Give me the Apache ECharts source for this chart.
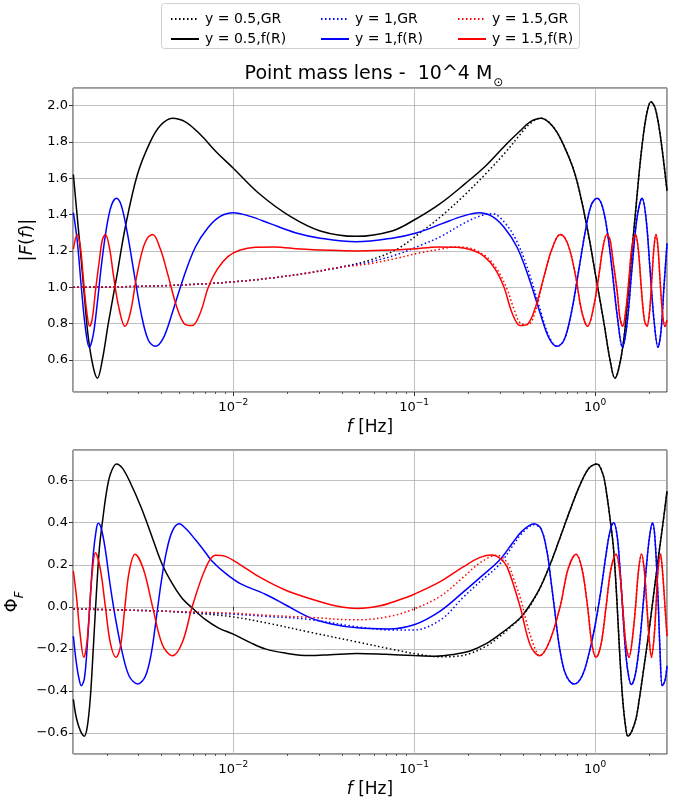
<!DOCTYPE html>
<html>
<head>
<meta charset="utf-8">
<script src="https://cdn.jsdelivr.net/npm/echarts@6/dist/echarts.min.js"></script>
<style>html,body{margin:0;padding:0;background:#fff}#c{width:692px;height:810px}</style>
</head>
<body>
<div id="c"></div>
<script>
// ---------------- data ----------------
// each point: [log10(f / Hz), value]
// |F(f)| panel
const ampY05GR = [[-2.884,1.00],[-2.624,1.003],[-2.403,1.008],[-2.182,1.018],[-2.000,1.03],[-1.796,1.05],[-1.580,1.08],[-1.409,1.11],[-1.243,1.15],[-1.094,1.21],[-0.967,1.30],[-0.851,1.39],[-0.729,1.50],[-0.608,1.62],[-0.497,1.74],[-0.414,1.84],[-0.359,1.90],[-0.298,1.93],[-0.238,1.89],[-0.182,1.80],[-0.110,1.62],[-0.044,1.33],[0.006,1.05],[0.050,0.80],[0.083,0.60],[0.110,0.50],[0.133,0.56],[0.160,0.72],[0.182,0.95],[0.204,1.20],[0.221,1.38],[0.243,1.62],[0.265,1.82],[0.287,1.96],[0.309,2.02],[0.331,1.99],[0.354,1.88],[0.376,1.72],[0.398,1.53]];
const ampY05fR = [[-2.884,1.62],[-2.862,1.38],[-2.845,1.20],[-2.823,0.95],[-2.801,0.72],[-2.774,0.56],[-2.751,0.50],[-2.724,0.60],[-2.691,0.80],[-2.646,1.05],[-2.597,1.33],[-2.530,1.62],[-2.459,1.80],[-2.403,1.89],[-2.337,1.93],[-2.265,1.91],[-2.182,1.84],[-2.099,1.75],[-2.000,1.655],[-1.851,1.51],[-1.685,1.39],[-1.519,1.31],[-1.320,1.28],[-1.122,1.31],[-1.000,1.37],[-0.856,1.46],[-0.718,1.57],[-0.602,1.67],[-0.497,1.78],[-0.414,1.86],[-0.359,1.91],[-0.298,1.93],[-0.238,1.89],[-0.182,1.80],[-0.110,1.62],[-0.044,1.33],[0.006,1.05],[0.050,0.80],[0.083,0.60],[0.110,0.50],[0.133,0.56],[0.160,0.72],[0.182,0.95],[0.204,1.20],[0.221,1.38],[0.243,1.62],[0.265,1.82],[0.287,1.96],[0.309,2.02],[0.331,1.99],[0.354,1.88],[0.376,1.72],[0.398,1.53]];
const ampY1GR = [[-2.884,1.00],[-2.624,1.003],[-2.403,1.008],[-2.182,1.018],[-2.000,1.03],[-1.796,1.05],[-1.580,1.08],[-1.409,1.11],[-1.243,1.14],[-1.094,1.18],[-0.967,1.23],[-0.851,1.28],[-0.729,1.35],[-0.641,1.39],[-0.569,1.405],[-0.503,1.36],[-0.431,1.25],[-0.365,1.08],[-0.304,0.88],[-0.254,0.73],[-0.210,0.675],[-0.171,0.71],[-0.133,0.85],[-0.094,1.07],[-0.055,1.30],[-0.022,1.45],[0.011,1.49],[0.039,1.45],[0.066,1.32],[0.094,1.10],[0.122,0.85],[0.152,0.67],[0.177,0.80],[0.204,1.10],[0.232,1.38],[0.260,1.49],[0.282,1.38],[0.304,1.10],[0.326,0.82],[0.348,0.67],[0.365,0.76],[0.381,1.00],[0.398,1.24]];
const ampY1fR = [[-2.884,1.41],[-2.862,1.25],[-2.840,1.00],[-2.818,0.78],[-2.796,0.67],[-2.774,0.74],[-2.751,0.92],[-2.729,1.12],[-2.702,1.32],[-2.674,1.45],[-2.646,1.49],[-2.619,1.45],[-2.586,1.30],[-2.547,1.07],[-2.508,0.85],[-2.470,0.71],[-2.431,0.675],[-2.387,0.72],[-2.337,0.86],[-2.276,1.05],[-2.210,1.22],[-2.138,1.33],[-2.072,1.39],[-2.000,1.41],[-1.906,1.39],[-1.796,1.35],[-1.657,1.30],[-1.519,1.27],[-1.320,1.25],[-1.122,1.27],[-0.983,1.30],[-0.845,1.35],[-0.735,1.39],[-0.641,1.41],[-0.569,1.39],[-0.503,1.33],[-0.431,1.22],[-0.365,1.05],[-0.304,0.86],[-0.254,0.72],[-0.210,0.675],[-0.171,0.71],[-0.133,0.85],[-0.094,1.07],[-0.055,1.30],[-0.022,1.45],[0.011,1.49],[0.039,1.45],[0.066,1.32],[0.094,1.10],[0.122,0.85],[0.152,0.67],[0.177,0.80],[0.204,1.10],[0.232,1.38],[0.260,1.49],[0.282,1.38],[0.304,1.10],[0.326,0.82],[0.348,0.67],[0.365,0.76],[0.381,1.00],[0.398,1.24]];
const ampY15GR = [[-2.884,1.00],[-2.624,1.003],[-2.403,1.008],[-2.182,1.018],[-2.000,1.03],[-1.796,1.05],[-1.580,1.08],[-1.409,1.11],[-1.243,1.13],[-1.094,1.16],[-0.967,1.19],[-0.851,1.21],[-0.774,1.222],[-0.718,1.22],[-0.652,1.20],[-0.591,1.16],[-0.536,1.09],[-0.486,0.99],[-0.448,0.88],[-0.409,0.80],[-0.370,0.795],[-0.326,0.88],[-0.282,1.06],[-0.238,1.21],[-0.193,1.29],[-0.166,1.27],[-0.138,1.20],[-0.105,1.05],[-0.072,0.86],[-0.041,0.785],[-0.006,0.90],[0.022,1.07],[0.044,1.22],[0.066,1.29],[0.083,1.26],[0.099,1.15],[0.122,0.98],[0.138,0.83],[0.153,0.785],[0.171,0.88],[0.188,1.05],[0.204,1.22],[0.224,1.29],[0.240,1.20],[0.257,0.98],[0.273,0.82],[0.287,0.785],[0.301,0.86],[0.315,1.06],[0.326,1.22],[0.337,1.29],[0.348,1.22],[0.362,1.00],[0.376,0.83],[0.387,0.785],[0.398,0.82]];
const ampY15fR = [[-2.884,1.21],[-2.863,1.29],[-2.845,1.22],[-2.829,1.05],[-2.812,0.88],[-2.794,0.785],[-2.779,0.83],[-2.762,0.98],[-2.740,1.15],[-2.724,1.26],[-2.707,1.29],[-2.685,1.22],[-2.663,1.07],[-2.635,0.90],[-2.599,0.785],[-2.569,0.86],[-2.536,1.05],[-2.503,1.20],[-2.475,1.27],[-2.446,1.29],[-2.403,1.21],[-2.359,1.06],[-2.315,0.90],[-2.271,0.80],[-2.227,0.79],[-2.182,0.86],[-2.138,1.00],[-2.088,1.10],[-2.028,1.17],[-1.961,1.205],[-1.878,1.22],[-1.773,1.222],[-1.630,1.21],[-1.464,1.203],[-1.320,1.20],[-1.177,1.203],[-1.011,1.21],[-0.867,1.222],[-0.762,1.22],[-0.680,1.205],[-0.613,1.17],[-0.552,1.10],[-0.503,1.00],[-0.459,0.86],[-0.414,0.79],[-0.370,0.80],[-0.326,0.90],[-0.282,1.06],[-0.238,1.21],[-0.193,1.29],[-0.166,1.27],[-0.138,1.20],[-0.105,1.05],[-0.072,0.86],[-0.041,0.785],[-0.006,0.90],[0.022,1.07],[0.044,1.22],[0.066,1.29],[0.083,1.26],[0.099,1.15],[0.122,0.98],[0.138,0.83],[0.153,0.785],[0.171,0.88],[0.188,1.05],[0.204,1.22],[0.224,1.29],[0.240,1.20],[0.257,0.98],[0.273,0.82],[0.287,0.785],[0.301,0.86],[0.315,1.06],[0.326,1.22],[0.337,1.29],[0.348,1.22],[0.362,1.00],[0.376,0.83],[0.387,0.785],[0.398,0.82]];
// Phi_F panel
const phY05GR = [[-2.884,-0.01],[-2.624,-0.015],[-2.403,-0.02],[-2.215,-0.03],[-2.000,-0.048],[-1.796,-0.08],[-1.580,-0.12],[-1.315,-0.167],[-1.133,-0.20],[-1.000,-0.222],[-0.851,-0.238],[-0.774,-0.236],[-0.691,-0.222],[-0.602,-0.187],[-0.525,-0.14],[-0.464,-0.095],[-0.409,-0.05],[-0.359,0.005],[-0.304,0.09],[-0.249,0.20],[-0.193,0.33],[-0.138,0.46],[-0.083,0.58],[-0.033,0.66],[0.011,0.68],[0.044,0.63],[0.064,0.54],[0.083,0.42],[0.102,0.28],[0.119,0.06],[0.135,-0.20],[0.152,-0.43],[0.169,-0.57],[0.182,-0.615],[0.204,-0.59],[0.227,-0.53],[0.243,-0.45],[0.265,-0.32],[0.293,-0.15],[0.320,0.03],[0.348,0.22],[0.376,0.40],[0.398,0.55]];
const phY05fR = [[-2.884,-0.44],[-2.867,-0.53],[-2.845,-0.59],[-2.823,-0.615],[-2.807,-0.57],[-2.790,-0.43],[-2.774,-0.20],[-2.757,0.06],[-2.740,0.28],[-2.721,0.42],[-2.702,0.54],[-2.680,0.63],[-2.646,0.68],[-2.613,0.66],[-2.569,0.59],[-2.508,0.47],[-2.448,0.33],[-2.392,0.20],[-2.337,0.11],[-2.282,0.04],[-2.221,-0.01],[-2.155,-0.06],[-2.083,-0.10],[-2.000,-0.13],[-1.906,-0.17],[-1.823,-0.20],[-1.713,-0.22],[-1.580,-0.232],[-1.464,-0.228],[-1.315,-0.222],[-1.160,-0.226],[-1.000,-0.232],[-0.884,-0.235],[-0.774,-0.225],[-0.691,-0.21],[-0.602,-0.175],[-0.525,-0.13],[-0.464,-0.09],[-0.409,-0.048],[-0.359,0.01],[-0.304,0.09],[-0.249,0.20],[-0.193,0.33],[-0.138,0.46],[-0.083,0.58],[-0.033,0.66],[0.011,0.68],[0.044,0.63],[0.064,0.54],[0.083,0.42],[0.102,0.28],[0.119,0.06],[0.135,-0.20],[0.152,-0.43],[0.169,-0.57],[0.182,-0.615],[0.204,-0.59],[0.227,-0.53],[0.243,-0.45],[0.265,-0.32],[0.293,-0.15],[0.320,0.03],[0.348,0.22],[0.376,0.40],[0.398,0.55]];
const phY1GR = [[-2.884,-0.01],[-2.624,-0.015],[-2.403,-0.02],[-2.215,-0.028],[-2.000,-0.035],[-1.823,-0.045],[-1.580,-0.06],[-1.315,-0.095],[-1.133,-0.11],[-1.000,-0.11],[-0.851,-0.06],[-0.729,0.045],[-0.635,0.12],[-0.530,0.20],[-0.459,0.285],[-0.403,0.35],[-0.337,0.39],[-0.298,0.37],[-0.265,0.26],[-0.243,0.12],[-0.221,-0.03],[-0.199,-0.18],[-0.171,-0.30],[-0.144,-0.35],[-0.116,-0.367],[-0.072,-0.33],[-0.033,-0.22],[0.000,-0.09],[0.033,0.08],[0.061,0.25],[0.083,0.36],[0.103,0.40],[0.122,0.34],[0.138,0.18],[0.152,0.00],[0.166,-0.18],[0.182,-0.31],[0.201,-0.37],[0.221,-0.33],[0.243,-0.20],[0.265,0.00],[0.287,0.22],[0.304,0.35],[0.318,0.40],[0.331,0.33],[0.348,0.05],[0.359,-0.20],[0.372,-0.375],[0.387,-0.35],[0.398,-0.28]];
const phY1fR = [[-2.884,-0.14],[-2.867,-0.27],[-2.851,-0.35],[-2.840,-0.375],[-2.823,-0.34],[-2.807,-0.18],[-2.790,0.05],[-2.774,0.25],[-2.757,0.37],[-2.746,0.397],[-2.729,0.37],[-2.707,0.27],[-2.680,0.10],[-2.646,-0.08],[-2.613,-0.22],[-2.575,-0.33],[-2.527,-0.367],[-2.486,-0.33],[-2.453,-0.22],[-2.425,-0.05],[-2.398,0.12],[-2.370,0.26],[-2.337,0.36],[-2.299,0.395],[-2.260,0.37],[-2.210,0.32],[-2.155,0.26],[-2.122,0.222],[-2.044,0.16],[-1.961,0.11],[-1.823,0.06],[-1.713,0.01],[-1.580,-0.05],[-1.464,-0.08],[-1.315,-0.10],[-1.144,-0.105],[-1.000,-0.085],[-0.856,-0.02],[-0.729,0.07],[-0.635,0.14],[-0.530,0.22],[-0.459,0.30],[-0.403,0.36],[-0.337,0.395],[-0.298,0.37],[-0.265,0.26],[-0.243,0.12],[-0.221,-0.03],[-0.199,-0.18],[-0.171,-0.30],[-0.144,-0.35],[-0.116,-0.367],[-0.072,-0.33],[-0.033,-0.22],[0.000,-0.09],[0.033,0.08],[0.061,0.25],[0.083,0.36],[0.103,0.40],[0.122,0.34],[0.138,0.18],[0.152,0.00],[0.166,-0.18],[0.182,-0.31],[0.201,-0.37],[0.221,-0.33],[0.243,-0.20],[0.265,0.00],[0.287,0.22],[0.304,0.35],[0.318,0.40],[0.331,0.33],[0.348,0.05],[0.359,-0.20],[0.372,-0.375],[0.387,-0.35],[0.398,-0.28]];
const phY15GR = [[-2.884,-0.01],[-2.624,-0.015],[-2.403,-0.02],[-2.215,-0.025],[-2.000,-0.03],[-1.823,-0.04],[-1.580,-0.05],[-1.315,-0.062],[-1.133,-0.045],[-1.000,-0.01],[-0.856,0.05],[-0.729,0.14],[-0.635,0.21],[-0.541,0.245],[-0.486,0.21],[-0.448,0.13],[-0.409,0.03],[-0.370,-0.10],[-0.331,-0.20],[-0.307,-0.233],[-0.254,-0.17],[-0.193,0.0],[-0.149,0.18],[-0.105,0.25],[-0.072,0.18],[-0.041,0.0],[-0.017,-0.18],[0.006,-0.24],[0.033,-0.18],[0.061,0.0],[0.088,0.18],[0.116,0.25],[0.135,0.18],[0.153,0.0],[0.171,-0.18],[0.188,-0.24],[0.204,-0.17],[0.224,0.0],[0.240,0.17],[0.257,0.25],[0.273,0.17],[0.287,0.0],[0.301,-0.17],[0.312,-0.24],[0.326,-0.15],[0.337,0.0],[0.348,0.17],[0.362,0.25],[0.373,0.17],[0.387,0.0],[0.398,-0.14]];
const phY15fR = [[-2.884,0.17],[-2.867,0.05],[-2.848,-0.12],[-2.826,-0.24],[-2.809,-0.17],[-2.794,0.0],[-2.779,0.17],[-2.762,0.257],[-2.735,0.18],[-2.707,0.0],[-2.680,-0.17],[-2.648,-0.24],[-2.624,-0.19],[-2.599,0.0],[-2.575,0.17],[-2.543,0.25],[-2.497,0.18],[-2.446,0.0],[-2.392,-0.18],[-2.336,-0.233],[-2.282,-0.17],[-2.227,0.0],[-2.155,0.18],[-2.099,0.245],[-2.044,0.24],[-1.961,0.20],[-1.851,0.14],[-1.713,0.08],[-1.580,0.04],[-1.436,0.005],[-1.315,-0.008],[-1.188,0.005],[-1.077,0.035],[-1.000,0.06],[-0.856,0.12],[-0.729,0.19],[-0.635,0.235],[-0.569,0.246],[-0.525,0.23],[-0.486,0.19],[-0.414,0.0],[-0.359,-0.18],[-0.307,-0.233],[-0.254,-0.17],[-0.193,0.0],[-0.149,0.18],[-0.105,0.25],[-0.072,0.18],[-0.041,0.0],[-0.017,-0.18],[0.006,-0.24],[0.033,-0.18],[0.061,0.0],[0.088,0.18],[0.116,0.25],[0.135,0.18],[0.153,0.0],[0.171,-0.18],[0.188,-0.24],[0.204,-0.17],[0.224,0.0],[0.240,0.17],[0.257,0.25],[0.273,0.17],[0.287,0.0],[0.301,-0.17],[0.312,-0.24],[0.326,-0.15],[0.337,0.0],[0.348,0.17],[0.362,0.25],[0.373,0.17],[0.387,0.0],[0.398,-0.14]];

// axis ranges / ticks
const X_MIN = 0.0013, X_MAX = 2.5;
const MINOR_TICKS = [0.002,0.003,0.004,0.005,0.006,0.007,0.008,0.009,0.02,0.03,0.04,0.05,0.06,0.07,0.08,0.09,0.2,0.3,0.4,0.5,0.6,0.7,0.8,0.9,2];
const AMP_RANGE = [0.424, 2.096], PHASE_RANGE = [-0.70, 0.746], Y_STEP = 0.2;
const NAMES = ['y = 0.5,GR','y = 0.5,f(R)','y = 1,GR','y = 1,f(R)','y = 1.5,GR','y = 1.5,f(R)'];

// ---------------- chart ----------------
const FONT = 'DejaVu Sans';
const toXY = arr => arr.map(p => [Math.pow(10, p[0]), p[1]]);

function line(name, data, color, dotted, idx) {
  return {
    name, type: 'line', xAxisIndex: idx, yAxisIndex: idx,
    data: toXY(data), symbol: 'none', showSymbol: false, smooth: 0.35,
    lineStyle: { color, width: 1.5, type: dotted ? [1.5, 2.5] : 'solid' },
    itemStyle: { color }, emphasis: { disabled: true }, silent: true, clip: true
  };
}
function xMain(idx) {
  return {
    type: 'log', logBase: 10, gridIndex: idx, min: X_MIN, max: X_MAX,
    name: '{i|f} [Hz]', nameLocation: 'middle', nameGap: 27,
    nameTextStyle: { fontFamily: FONT, fontSize: 17, color: '#000',
      rich: { i: { fontFamily: FONT, fontSize: 17, fontStyle: 'italic', color: '#000' } } },
    axisLine: { show: false },
    axisTick: { show: true, length: 4, lineStyle: { color: '#333', width: 1 } },
    axisLabel: {
      margin: 6, showMinLabel: false, showMaxLabel: false, color: '#000',
      formatter: v => { const e = Math.round(Math.log10(v)); return '{b|10}{s|' + (e < 0 ? '\u2212' + (-e) : e) + '}'; },
      rich: { b: { fontFamily: FONT, fontSize: 13, color: '#000', verticalAlign: 'bottom' },
              s: { fontFamily: FONT, fontSize: 9, color: '#000', verticalAlign: 'bottom', padding: [0, 0, 7, 0] } }
    },
    splitLine: { show: true, lineStyle: { color: '#b0b0b0', width: 0.8 } }
  };
}
function xMinor(idx) {
  return {
    type: 'log', logBase: 10, gridIndex: idx, min: X_MIN, max: X_MAX, position: 'bottom',
    axisLine: { show: false }, axisLabel: { show: false }, splitLine: { show: false },
    axisTick: { show: true, length: 2, customValues: MINOR_TICKS, lineStyle: { color: '#333', width: 0.8 } }
  };
}
function yAx(idx, range, name, nameGap, rich, fmt) {
  return {
    type: 'value', gridIndex: idx, min: range[0], max: range[1],
    minInterval: Y_STEP, maxInterval: Y_STEP,
    name, nameLocation: 'middle', nameGap, nameRotate: 90,
    nameTextStyle: { fontFamily: FONT, fontSize: 18, color: '#000', rich },
    axisLine: { show: false },
    axisTick: { show: true, length: 4, lineStyle: { color: '#333', width: 1 } },
    axisLabel: { margin: 5, showMinLabel: false, showMaxLabel: false, fontFamily: FONT, fontSize: 13, color: '#000', formatter: fmt },
    splitLine: { show: true, lineStyle: { color: '#b0b0b0', width: 0.8 } }
  };
}
const legendText = { fontFamily: FONT, fontSize: 14, color: '#000', padding: [0, 0, 0, 1] };
function leg(left, items) {
  return { data: items, left, top: 7, orient: 'vertical', itemWidth: 28, itemHeight: 14, itemGap: 6,
           selectedMode: false, textStyle: legendText, itemStyle: { opacity: 0 } };
}

const chart = echarts.init(document.getElementById('c'), null, { renderer: 'canvas' });
chart.setOption({
  animation: false,
  backgroundColor: '#fff',
  grid: [
    { left: 73, top: 88, width: 594, height: 304, containLabel: false, outerBoundsMode: 'none',
      show: true, borderColor: '#333', borderWidth: 1, backgroundColor: 'transparent' },
    { left: 73, top: 450, width: 594, height: 304, containLabel: false, outerBoundsMode: 'none',
      show: true, borderColor: '#333', borderWidth: 1, backgroundColor: 'transparent' }
  ],
  xAxis: [xMain(0), xMain(1), xMinor(0), xMinor(1)],
  yAxis: [
    yAx(0, AMP_RANGE, '{n||}{i|F}{n|(}{i|f}{n|)|}', 36,
      { n: { fontFamily: FONT, fontSize: 18, color: '#000' }, i: { fontFamily: FONT, fontSize: 18, fontStyle: 'italic', color: '#000' } },
      v => v.toFixed(1)),
    yAx(1, PHASE_RANGE, '{n|\u03a6}{s|F}', 40,
      { n: { fontFamily: FONT, fontSize: 18, color: '#000', verticalAlign: 'top', lineHeight: 22 },
        s: { fontFamily: FONT, fontSize: 12, fontStyle: 'italic', color: '#000', verticalAlign: 'bottom', lineHeight: 8 } },
      v => (v < 0 ? '\u2212' : '') + Math.abs(v).toFixed(1))
  ],
  legend: [leg(165, [NAMES[0], NAMES[1]]), leg(315, [NAMES[2], NAMES[3]]), leg(452, [NAMES[4], NAMES[5]])],
  graphic: [
    { type: 'rect', left: 161, top: 3, z: -1, shape: { width: 418, height: 45, r: 3 },
      style: { fill: '#fff', stroke: '#d0d0d0', lineWidth: 1 } },
    { type: 'text', x: 374, y: 77, z: 10,
      style: { text: '{t|Point mass lens -  10^4 M}{s|\u2299}', align: 'center', verticalAlign: 'middle',
        textAlign: 'center', textVerticalAlign: 'middle',
        rich: { t: { fontFamily: FONT, fontSize: 19, fill: '#000', color: '#000', verticalAlign: 'top', lineHeight: 24 },
                s: { fontFamily: FONT, fontSize: 12, fill: '#000', color: '#000', verticalAlign: 'bottom', lineHeight: 8, padding: [0, 0, 0, 1] } } } }
  ],
  series: [
    line(NAMES[0], ampY05GR, '#000000', true, 0),
    line(NAMES[1], ampY05fR, '#000000', false, 0),
    line(NAMES[2], ampY1GR, '#0000ff', true, 0),
    line(NAMES[3], ampY1fR, '#0000ff', false, 0),
    line(NAMES[4], ampY15GR, '#ff0000', true, 0),
    line(NAMES[5], ampY15fR, '#ff0000', false, 0),
    line(NAMES[0], phY05GR, '#000000', true, 1),
    line(NAMES[1], phY05fR, '#000000', false, 1),
    line(NAMES[2], phY1GR, '#0000ff', true, 1),
    line(NAMES[3], phY1fR, '#0000ff', false, 1),
    line(NAMES[4], phY15GR, '#ff0000', true, 1),
    line(NAMES[5], phY15fR, '#ff0000', false, 1)
  ]
});
</script>
</body>
</html>
